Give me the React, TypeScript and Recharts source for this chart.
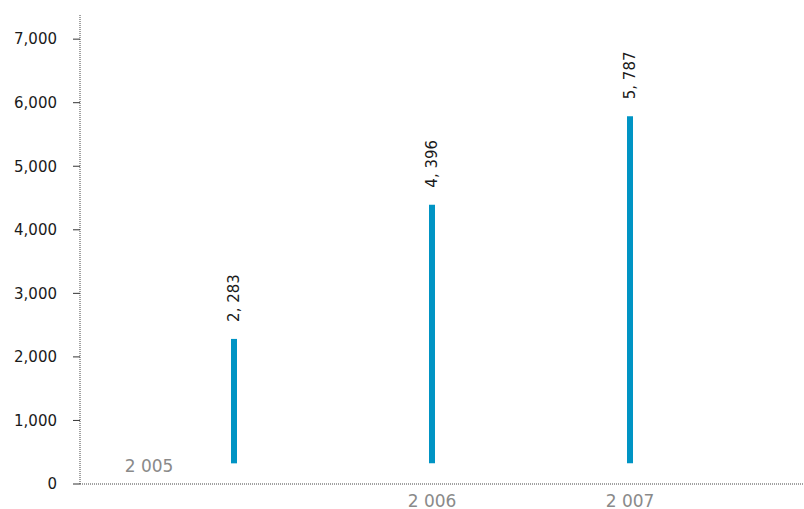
import React from "react";
import { BarChart, Bar, XAxis, YAxis, LabelList } from "recharts";

// Yearly totals
const years: string[] = ["2 005", "2 006", "2 007"];
const totals: number[] = [2283, 4396, 5787];
// Bars float slightly above the axis; this is their lower end
const barBase: number[] = [325, 325, 325];
const yTicks: number[] = [0, 1000, 2000, 3000, 4000, 5000, 6000, 7000];

const data = years.map((year, i) => ({
  year,
  total: totals[i],
  range: [barBase[i], totals[i]],
}));

const FONT = "'DejaVu Sans', sans-serif";

const formatTotal = (v: number): string =>
  `${Math.floor(v / 1000)}, ${String(v % 1000).padStart(3, "0")}`;

const YearTick = (props: any) => {
  const { x, y, payload, index } = props;
  const first = index === 0;
  const tx = first ? x - 85 : x;
  const ty = first ? y - 20.5 : y + 15;
  return (
    <text
      x={tx}
      y={ty}
      textAnchor="middle"
      fill="#8a8a8a"
      fontSize={17}
      fontFamily={FONT}
    >
      {payload.value}
    </text>
  );
};

const ValueLabel = (props: any) => {
  const { x, y, width, index } = props;
  const cx = x + width / 2;
  const tx = cx + 5.5;
  const ty = y - 17;
  return (
    <text
      x={tx}
      y={ty}
      transform={`rotate(-90, ${tx}, ${ty})`}
      textAnchor="start"
      fill="#1a1a1a"
      fontSize={15}
      fontFamily={FONT}
    >
      {formatTotal(totals[index])}
    </text>
  );
};

export default function App() {
  return (
    <div style={{ position: "absolute", left: 0, top: 0, width: 804, height: 509, background: "#fff" }}>
      <BarChart
        width={804}
        height={509}
        data={data}
        margin={{ top: 15, right: 1, bottom: 0, left: 0 }}
      >
        <XAxis
          dataKey="year"
          height={25}
          padding={{ left: 55, right: 74 }}
          axisLine={{ stroke: "#444", strokeDasharray: "1 1" }}
          tickLine={false}
          tick={<YearTick />}
          interval={0}
        />
        <YAxis
          width={80}
          domain={[0, 7380]}
          ticks={yTicks}
          allowDataOverflow
          tickFormatter={(v: number) => v.toLocaleString("en-US")}
          axisLine={{ stroke: "#444", strokeDasharray: "1 1" }}
          tickLine={{ stroke: "#333" }}
          tickSize={7}
          tickMargin={16}
          tick={{ fill: "#1a1a1a", fontSize: 15, fontFamily: FONT }}
        />
        <Bar dataKey="range" fill="#0094c4" barSize={6} isAnimationActive={false}>
          <LabelList dataKey="total" content={<ValueLabel />} />
        </Bar>
      </BarChart>
    </div>
  );
}
